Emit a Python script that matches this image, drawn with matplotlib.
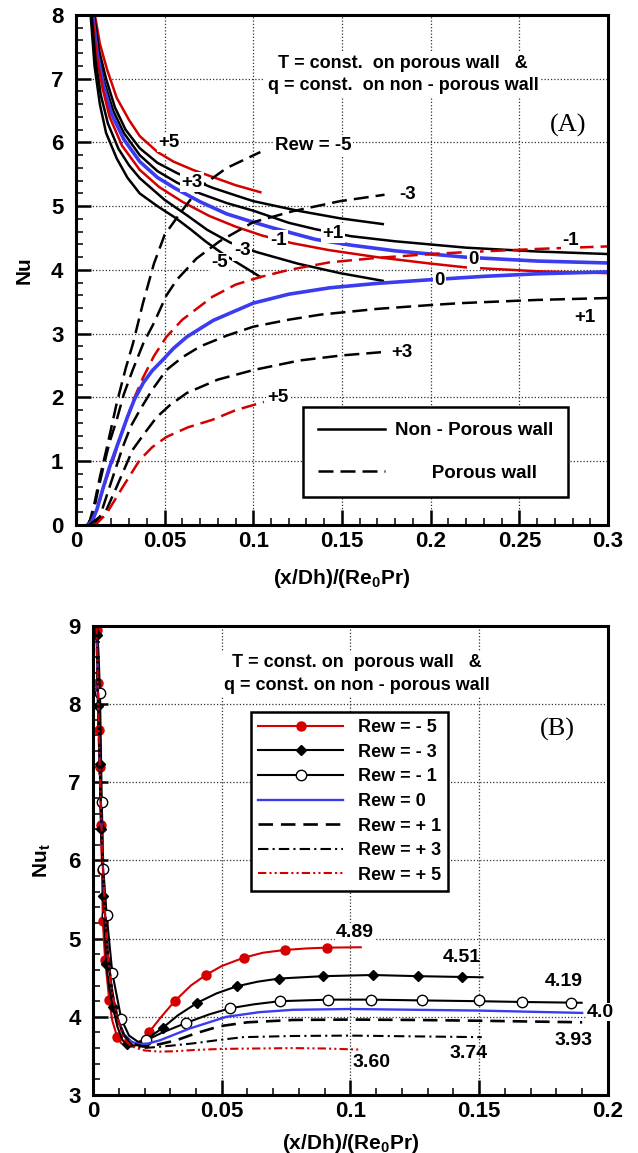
import matplotlib
matplotlib.use('Agg')
import matplotlib.pyplot as plt
from matplotlib.lines import Line2D
from matplotlib.ticker import MultipleLocator

# ---------------- panel (A) data: Nu along the channel ----------------
# non-porous wall (solid lines)
np_p5_x = [0.0107, 0.0135, 0.0175, 0.023, 0.03, 0.036, 0.046, 0.055, 0.066, 0.077, 0.09, 0.104]
np_p5_nu = [8.0, 7.55, 7.15, 6.7, 6.35, 6.1, 5.85, 5.7, 5.57, 5.46, 5.33, 5.22]
np_p3_x = [0.0103, 0.013, 0.017, 0.022, 0.028, 0.036, 0.046, 0.057, 0.067, 0.077, 0.09, 0.1, 0.125, 0.149, 0.173]
np_p3_nu = [8.0, 7.45, 7.0, 6.55, 6.2, 5.91, 5.68, 5.52, 5.4, 5.29, 5.17, 5.08, 4.93, 4.81, 4.72]
np_p1_x = [0.0098, 0.0125, 0.016, 0.021, 0.027, 0.036, 0.046, 0.057, 0.07, 0.085, 0.1, 0.12, 0.135, 0.155, 0.18, 0.22, 0.26, 0.3]
np_p1_nu = [8.0, 7.4, 6.95, 6.5, 6.15, 5.8, 5.55, 5.37, 5.2, 5.05, 4.93, 4.74, 4.64, 4.53, 4.45, 4.35, 4.29, 4.25]
np_0_x = [0.0095, 0.012, 0.0155, 0.02, 0.027, 0.036, 0.046, 0.056, 0.07, 0.085, 0.1, 0.111, 0.135, 0.155, 0.18, 0.22, 0.26, 0.3]
np_0_nu = [8.0, 7.4, 6.9, 6.45, 6.05, 5.7, 5.45, 5.28, 5.07, 4.88, 4.75, 4.66, 4.48, 4.39, 4.3, 4.2, 4.14, 4.11]
np_m1_x = [0.0092, 0.0115, 0.015, 0.019, 0.026, 0.036, 0.047, 0.06, 0.075, 0.09, 0.105, 0.122, 0.143, 0.17, 0.2, 0.22, 0.26, 0.3]
np_m1_nu = [8.0, 7.4, 6.85, 6.4, 5.95, 5.57, 5.3, 5.07, 4.85, 4.68, 4.54, 4.42, 4.31, 4.2, 4.1, 4.04, 3.98, 3.95]
np_m3_x = [0.0088, 0.011, 0.014, 0.018, 0.024, 0.03, 0.036, 0.05, 0.062, 0.074, 0.087, 0.102, 0.125, 0.149, 0.173]
np_m3_nu = [8.0, 7.3, 6.75, 6.3, 5.9, 5.64, 5.44, 5.1, 4.87, 4.63, 4.43, 4.28, 4.1, 3.95, 3.83]
np_m5_x = [0.0083, 0.0105, 0.0135, 0.017, 0.023, 0.029, 0.036, 0.046, 0.056, 0.065, 0.073, 0.082, 0.09, 0.097, 0.104]
np_m5_nu = [8.0, 7.2, 6.6, 6.15, 5.75, 5.45, 5.2, 5.0, 4.82, 4.63, 4.45, 4.27, 4.13, 4.01, 3.89]

# porous wall (dashed lines, Rew = 0 drawn solid blue)
pw_m5_x = [0.0065, 0.008, 0.0105, 0.0135, 0.0175, 0.023, 0.028, 0.0322, 0.0378, 0.044, 0.05, 0.059, 0.07, 0.085, 0.104]
pw_m5_nu = [0.0, 0.08, 0.35, 0.75, 1.22, 1.91, 2.45, 2.85, 3.48, 4.1, 4.55, 4.9, 5.3, 5.6, 5.85]
pw_m3_x = [0.0068, 0.0098, 0.0125, 0.0155, 0.019, 0.023, 0.027, 0.032, 0.038, 0.044, 0.051, 0.057, 0.068, 0.081, 0.1, 0.122, 0.149, 0.174]
pw_m3_nu = [0.0, 0.19, 0.55, 0.91, 1.3, 1.65, 2.05, 2.43, 2.85, 3.17, 3.6, 3.85, 4.18, 4.45, 4.75, 4.92, 5.08, 5.18]
pw_m1_x = [0.0072, 0.0105, 0.0135, 0.017, 0.021, 0.025, 0.029, 0.033, 0.038, 0.044, 0.051, 0.06, 0.077, 0.09, 0.104, 0.12, 0.143, 0.17, 0.2, 0.22, 0.26, 0.3]
pw_m1_nu = [0.0, 0.15, 0.39, 0.72, 1.02, 1.38, 1.69, 2.0, 2.32, 2.65, 2.95, 3.22, 3.58, 3.77, 3.89, 4.0, 4.12, 4.19, 4.25, 4.28, 4.33, 4.37]
pw_0_x = [0.0065, 0.009, 0.0118, 0.015, 0.019, 0.024, 0.029, 0.033, 0.038, 0.043, 0.049, 0.055, 0.0625, 0.0775, 0.1, 0.12, 0.143, 0.17, 0.196, 0.23, 0.26, 0.3]
pw_0_nu = [0.0, 0.05, 0.24, 0.55, 0.91, 1.3, 1.69, 1.97, 2.23, 2.42, 2.59, 2.77, 2.95, 3.21, 3.48, 3.62, 3.72, 3.79, 3.84, 3.9, 3.94, 3.97]
pw_p1_x = [0.0075, 0.0135, 0.019, 0.0265, 0.031, 0.036, 0.043, 0.051, 0.06, 0.07, 0.085, 0.1, 0.12, 0.138, 0.17, 0.2, 0.217, 0.26, 0.3]
pw_p1_nu = [0.0, 0.13, 0.6, 1.23, 1.55, 1.8, 2.12, 2.43, 2.63, 2.8, 2.97, 3.11, 3.22, 3.3, 3.39, 3.45, 3.48, 3.53, 3.56]
pw_p3_x = [0.0085, 0.0155, 0.023, 0.032, 0.039, 0.0455, 0.053, 0.0625, 0.08, 0.1, 0.126, 0.15, 0.172]
pw_p3_nu = [0.0, 0.13, 0.6, 1.18, 1.45, 1.69, 1.88, 2.07, 2.28, 2.43, 2.58, 2.66, 2.71]
pw_p5_x = [0.009, 0.012, 0.0175, 0.0265, 0.036, 0.043, 0.051, 0.063, 0.077, 0.09, 0.106]
pw_p5_nu = [0.0, 0.03, 0.19, 0.6, 1.02, 1.22, 1.38, 1.53, 1.65, 1.8, 1.93]

# ---------------- panel (B) data: total Nu_t ----------------
t_m5_x = [0.0013, 0.0021, 0.0023, 0.0027, 0.003, 0.0035, 0.0038, 0.0047, 0.0063, 0.0075, 0.0094, 0.011, 0.0135, 0.016, 0.019,
          0.0217, 0.026, 0.0317, 0.038, 0.0438, 0.05, 0.0586, 0.066, 0.0744, 0.083, 0.0907, 0.104]
t_m5_nu = [9.0, 8.27, 7.67, 7.2, 6.45, 5.88, 5.22, 4.73, 4.22, 3.95, 3.74, 3.66, 3.62, 3.63, 3.7,
           3.8, 3.98, 4.2, 4.4, 4.535, 4.65, 4.757, 4.82, 4.855, 4.875, 4.885, 4.89]
t_m5_mx = [0.0014, 0.0021, 0.0023, 0.0027, 0.003, 0.0035, 0.0038, 0.0047, 0.0063, 0.0094, 0.0217, 0.0317, 0.0438, 0.0586, 0.0744, 0.0907]
t_m5_mnu = [8.95, 8.27, 7.67, 7.2, 6.45, 5.88, 5.22, 4.73, 4.22, 3.74, 3.8, 4.2, 4.535, 4.757, 4.855, 4.885]

t_m3_x = [0.0013, 0.0021, 0.0027, 0.0032, 0.004, 0.0052, 0.0064, 0.0077, 0.0095, 0.0115, 0.0131, 0.015, 0.018, 0.0215,
          0.0271, 0.033, 0.0405, 0.048, 0.0558, 0.064, 0.0724, 0.0892, 0.1086, 0.1264, 0.1434, 0.1513]
t_m3_nu = [9.0, 7.97, 7.24, 6.4, 5.55, 4.68, 4.35, 4.12, 3.87, 3.7, 3.65, 3.62, 3.65, 3.73,
           3.86, 4.02, 4.18, 4.3, 4.39, 4.45, 4.49, 4.52, 4.535, 4.52, 4.51, 4.506]
t_m3_mx = [0.0014, 0.0021, 0.0027, 0.0032, 0.004, 0.0052, 0.0077, 0.0131, 0.0271, 0.0405, 0.0558, 0.0724, 0.0892, 0.1086, 0.1264, 0.1434]
t_m3_mnu = [8.88, 7.97, 7.24, 6.4, 5.55, 4.68, 4.12, 3.65, 3.86, 4.18, 4.39, 4.49, 4.52, 4.535, 4.52, 4.51]

t_m1_x = [0.0016, 0.0022, 0.0027, 0.0034, 0.004, 0.0053, 0.0075, 0.011, 0.014, 0.0175, 0.0207, 0.027, 0.036, 0.045,
          0.0533, 0.0625, 0.0725, 0.0914, 0.108, 0.1276, 0.15, 0.1668, 0.1898]
t_m1_nu = [9.0, 8.6, 8.14, 6.75, 5.89, 5.3, 4.56, 3.97, 3.76, 3.68, 3.7, 3.8, 3.92, 4.03,
           4.11, 4.16, 4.2, 4.22, 4.22, 4.21, 4.2, 4.19, 4.18]
t_m1_mx = [0.0027, 0.0034, 0.004, 0.0053, 0.0075, 0.011, 0.0207, 0.036, 0.0533, 0.0725, 0.0914, 0.108, 0.1276, 0.15, 0.1668, 0.1855]
t_m1_mnu = [8.14, 6.75, 5.89, 5.3, 4.56, 3.97, 3.7, 3.92, 4.11, 4.2, 4.22, 4.22, 4.21, 4.21, 4.19, 4.18]

t_0_x = [0.0014, 0.002, 0.0027, 0.0035, 0.0045, 0.0058, 0.0075, 0.0095, 0.012, 0.015, 0.018, 0.0215, 0.026, 0.0375,
         0.0518, 0.0647, 0.0777, 0.1, 0.125, 0.15, 0.17, 0.19]
t_0_nu = [9.0, 8.0, 7.1, 6.2, 5.4, 4.75, 4.3, 3.98, 3.78, 3.68, 3.65, 3.66, 3.7, 3.85,
          4.0, 4.06, 4.09, 4.1, 4.09, 4.08, 4.065, 4.05]

t_p1_x = [0.0014, 0.002, 0.0027, 0.0035, 0.0045, 0.0058, 0.0075, 0.0095, 0.012, 0.015, 0.0194, 0.0245, 0.0324, 0.04,
          0.0492, 0.06, 0.0777, 0.1, 0.125, 0.15, 0.17, 0.19]
t_p1_nu = [9.0, 8.0, 7.1, 6.2, 5.4, 4.75, 4.3, 3.98, 3.76, 3.66, 3.62, 3.64, 3.7, 3.79,
           3.88, 3.93, 3.96, 3.965, 3.96, 3.95, 3.94, 3.93]

t_p3_x = [0.0014, 0.002, 0.0027, 0.0035, 0.0045, 0.0058, 0.0075, 0.0095, 0.012, 0.015, 0.019, 0.0233, 0.03, 0.0388,
          0.048, 0.0583, 0.0777, 0.1, 0.125, 0.151]
t_p3_nu = [9.0, 8.0, 7.1, 6.2, 5.4, 4.75, 4.3, 3.98, 3.75, 3.64, 3.6, 3.61, 3.63, 3.66,
           3.7, 3.74, 3.755, 3.76, 3.75, 3.74]

t_p5_x = [0.0014, 0.002, 0.0027, 0.0035, 0.0045, 0.0058, 0.0075, 0.0095, 0.012, 0.0145, 0.0168, 0.02, 0.026, 0.032,
          0.0388, 0.05, 0.0777, 0.09, 0.1043]
t_p5_nu = [9.0, 8.0, 7.1, 6.2, 5.4, 4.75, 4.3, 3.98, 3.72, 3.63, 3.6, 3.57, 3.555, 3.56,
           3.575, 3.59, 3.6, 3.595, 3.58]

xt_a = [0, 0.05, 0.1, 0.15, 0.2, 0.25, 0.3]
xtl_a = ['0', '0.05', '0.1', '0.15', '0.2', '0.25', '0.3']
xt_b = [0, 0.05, 0.1, 0.15, 0.2]
xtl_b = ['0', '0.05', '0.1', '0.15', '0.2']

RED = '#d40000'
BLUE = '#3b3bf0'

plt.rcParams['font.family'] = ['Liberation Sans', 'DejaVu Sans']
plt.rcParams['font.weight'] = 'bold'
plt.rcParams['mathtext.fontset'] = 'custom'
plt.rcParams['mathtext.rm'] = 'Liberation Sans:bold'
plt.rcParams['mathtext.it'] = 'Liberation Sans:bold'
plt.rcParams['mathtext.bf'] = 'Liberation Sans:bold'


def style_axes(ax, xmax, xticks, xlabels, ymin, ymax, ylabel):
    ax.set_xlim(0, xmax)
    ax.set_ylim(ymin, ymax)
    ax.set_xticks(xticks)
    ax.set_xticklabels(xlabels)
    ax.xaxis.set_minor_locator(MultipleLocator(0.01))
    ax.yaxis.set_minor_locator(MultipleLocator(0.2))
    ax.tick_params(which='major', direction='in', length=11, width=1.8, labelsize=16)
    ax.tick_params(which='minor', direction='in', length=5, width=1.1)
    ax.tick_params(axis='y', pad=9)
    ax.tick_params(axis='x', pad=4)
    ax.grid(True, which='major', ls=(0, (1, 1.6)), color='#333333', lw=0.9)
    ax.set_axisbelow(True)
    for s in ax.spines.values():
        s.set_linewidth(2.2)
    ax.set_xlabel('(x/Dh)/(Re$_0$Pr)', fontsize=15, fontweight='bold')
    ax.set_ylabel(ylabel, fontsize=15, fontweight='bold')


fig = plt.figure(figsize=(6.38, 11.53), dpi=100)
axA = fig.add_axes([0.119, 0.5447, 0.834, 0.4423])
axB = fig.add_axes([0.1458, 0.0503, 0.807, 0.4068])

# ---------------- panel A ----------------
lw = 1.8
dash = (6, 2.8)
axA.plot(np_p5_x, np_p5_nu, color=RED, lw=lw)
axA.plot(np_p3_x, np_p3_nu, color='k', lw=lw)
axA.plot(np_p1_x, np_p1_nu, color='k', lw=lw)
axA.plot(np_0_x, np_0_nu, color=BLUE, lw=2.6)
axA.plot(np_m1_x, np_m1_nu, color=RED, lw=lw)
axA.plot(np_m3_x, np_m3_nu, color='k', lw=lw)
axA.plot(np_m5_x, np_m5_nu, color='k', lw=lw)

axA.plot(pw_m5_x, pw_m5_nu, color='k', lw=lw, dashes=dash)
axA.plot(pw_m3_x, pw_m3_nu, color='k', lw=lw, dashes=dash)
axA.plot(pw_m1_x, pw_m1_nu, color=RED, lw=lw, dashes=dash)
axA.plot(pw_0_x, pw_0_nu, color=BLUE, lw=2.6)
axA.plot(pw_p1_x, pw_p1_nu, color='k', lw=lw, dashes=dash)
axA.plot(pw_p3_x, pw_p3_nu, color='k', lw=lw, dashes=dash)
axA.plot(pw_p5_x, pw_p5_nu, color=RED, lw=lw, dashes=dash)

style_axes(axA, 0.3, xt_a, xtl_a, 0, 8, 'Nu')
axA.xaxis.set_label_coords(0.5, -0.082)
axA.yaxis.set_label_coords(-0.079, 0.5)

box = dict(fc='white', ec='none', pad=1.0)
curve_labels_a = [('+5', 0.0525, 6.0), ('+3', 0.0655, 5.38), ('+1', 0.145, 4.58), ('-1', 0.114, 4.47),
                  ('-3', 0.0937, 4.3), ('-5', 0.081, 4.12), ('0', 0.224, 4.16), ('0', 0.205, 3.84),
                  ('-1', 0.279, 4.47), ('Rew = -5', 0.134, 5.96), ('-3', 0.187, 5.18), ('+1', 0.287, 3.25),
                  ('+3', 0.184, 2.71), ('+5', 0.114, 2.0)]
for txt, x, y in curve_labels_a:
    axA.text(x, y, txt, fontsize=13.5, fontweight='bold', ha='center', va='center', bbox=box, zorder=4)

axA.text(0.1844, 7.067, 'T = const.  on porous wall   &\nq = const.  on non - porous wall',
         fontsize=13, fontweight='bold', ha='center', va='center', multialignment='center',
         linespacing=1.45, bbox=dict(fc='white', ec='none', pad=2), zorder=4)
axA.text(0.2775, 6.27, '(A)', fontsize=19, family='Liberation Serif', fontweight='normal',
         ha='center', va='center')

hA = [Line2D([], [], color='k', lw=lw), Line2D([], [], color='k', lw=lw, dashes=dash)]
legA = axA.legend(hA, ['Non - Porous wall', '       Porous wall'], loc='upper left',
                  bbox_to_anchor=(0.4267, 0.231), borderaxespad=0, fancybox=False, framealpha=1,
                  edgecolor='k', fontsize=13.5, handlelength=3.6, handletextpad=0.5,
                  borderpad=0.8, labelspacing=1.35)
legA.get_frame().set_linewidth(1.8)
legA.set_zorder(6)

# ---------------- panel B ----------------
lwb = 1.5
axB.plot(t_m5_x, t_m5_nu, color=RED, lw=lwb)
axB.plot(t_m5_mx, t_m5_mnu, ls='none', marker='o', ms=6.5, color=RED)
axB.plot(t_m3_x, t_m3_nu, color='k', lw=lwb)
axB.plot(t_m3_mx, t_m3_mnu, ls='none', marker='D', ms=5.2, color='k')
axB.plot(t_m1_x, t_m1_nu, color='k', lw=lwb)
axB.plot(t_m1_mx, t_m1_mnu, ls='none', marker='o', ms=7.5, mfc='white', mec='k', mew=1.0)
axB.plot(t_0_x, t_0_nu, color=BLUE, lw=1.7)
axB.plot(t_p1_x, t_p1_nu, color='k', lw=1.9, dashes=(5.5, 3))
axB.plot(t_p3_x, t_p3_nu, color='k', lw=lwb, dashes=(5, 2, 1, 2))
axB.plot(t_p5_x, t_p5_nu, color=RED, lw=lwb, dashes=(4, 1.5, 1, 1.5, 1, 1.5))

style_axes(axB, 0.2, xt_b, xtl_b, 3, 9, 'Nu$_t$')
axB.xaxis.set_label_coords(0.5, -0.079)
axB.yaxis.set_label_coords(-0.078, 0.5)

hB = [Line2D([], [], color=RED, lw=lwb, marker='o', ms=6.5),
      Line2D([], [], color='k', lw=lwb, marker='D', ms=5.2),
      Line2D([], [], color='k', lw=lwb, marker='o', ms=7.5, mfc='white', mec='k', mew=1.0),
      Line2D([], [], color=BLUE, lw=1.7),
      Line2D([], [], color='k', lw=1.9, dashes=(5.5, 3)),
      Line2D([], [], color='k', lw=lwb, dashes=(5, 2, 1, 2)),
      Line2D([], [], color=RED, lw=lwb, dashes=(4, 1.5, 1, 1.5, 1, 1.5))]
labB = ['Rew = - 5', 'Rew = - 3', 'Rew = - 1', 'Rew = 0', 'Rew = + 1', 'Rew = + 3', 'Rew = + 5']
legB = axB.legend(hB, labB, loc='upper left', bbox_to_anchor=(0.307, 0.8166), borderaxespad=0,
                  fancybox=False, framealpha=1, edgecolor='k', fontsize=13, handlelength=4.7,
                  handletextpad=0.8, borderpad=0.4, labelspacing=0.42, numpoints=1)
legB.get_frame().set_linewidth(1.8)
legB.set_zorder(6)

axB.text(0.1025, 8.386, 'T = const. on  porous wall   &\nq = const. on non - porous wall',
         fontsize=13, fontweight='bold', ha='center', va='center', multialignment='center',
         linespacing=1.45, bbox=dict(fc='white', ec='none', pad=2), zorder=4)
axB.text(0.1802, 7.67, '(B)', fontsize=19, family='Liberation Serif', fontweight='normal',
         ha='center', va='center')

value_labels_b = [('4.89', 0.1017, 5.085, True), ('4.51', 0.1433, 4.765, False),
                  ('4.19', 0.1829, 4.446, False), ('4.0', 0.1969, 4.06, True),
                  ('3.93', 0.1868, 3.70, False), ('3.74', 0.146, 3.537, False),
                  ('3.60', 0.108, 3.42, False)]
for txt, x, y, boxed in value_labels_b:
    axB.text(x, y, txt, fontsize=14, fontweight='bold', ha='center', va='center', clip_on=False,
             bbox=dict(fc='white', ec='none', pad=0.5) if boxed else None, zorder=5)

fig.savefig('out.png', dpi=100)
